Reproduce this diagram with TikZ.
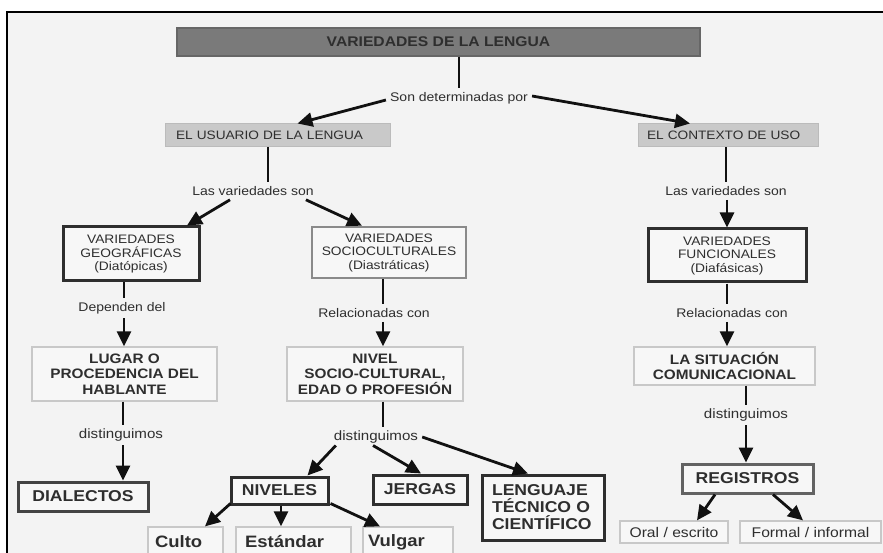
\documentclass[tikz,border=0pt]{standalone}
\usepackage{fontspec}
\setmainfont{Liberation Sans}[FakeStretch=1.12]
\usetikzlibrary{arrows.meta,calc}

\definecolor{paper}{HTML}{F3F3F3}
\definecolor{boxfill}{HTML}{F7F7F7}
\definecolor{ink}{HTML}{2E2E2E}
\definecolor{wire}{HTML}{111111}
\definecolor{titlefill}{HTML}{7A7A7A}
\definecolor{titleedge}{HTML}{666666}
\definecolor{headfill}{HTML}{C9C9C9}
\definecolor{headedge}{HTML}{BBBBBB}
\definecolor{thinline}{HTML}{C8C8C8}
\definecolor{midline}{HTML}{8A8A8A}

\newcommand{\txtsize}[2]{\fontsize{#1}{#2}\selectfont}

\tikzset{
  lbl/.style={inner sep=4pt, text=ink, font=\txtsize{12.5pt}{14pt}},
  lblbig/.style={lbl, font=\txtsize{13.5pt}{15pt}},
  headbox/.style={draw=headedge, line width=1pt, fill=headfill, text=ink,
    inner ysep=0pt, align=left, font=\txtsize{12.2pt}{14pt}},
  titlebox/.style={draw=titleedge, line width=1.2pt, fill=titlefill, text=ink,
    inner sep=0pt, font=\bfseries\txtsize{14pt}{16pt}},
  plainbox/.style={draw=thinline, line width=1.2pt, fill=boxfill, text=ink,
    inner sep=0pt, align=center},
  strongbox/.style={draw=ink, line width=3pt, fill=boxfill, text=ink,
    inner sep=0pt, align=center},
  greybox/.style={strongbox, draw=midline, line width=2.6pt},
  varfont/.style={font=\txtsize{12.3pt}{13.5pt}},
  midfont/.style={font=\bfseries\txtsize{13.7pt}{15.5pt}},
  bigfont/.style={font=\bfseries\txtsize{15.7pt}{17pt}},
  leaffont/.style={font=\bfseries\txtsize{16.5pt}{18pt}},
  link/.style={draw=wire, line width=2.8pt},
  arrow/.style={link, -{Triangle[length=15pt,width=14pt]}},
}

\begin{document}
\begin{tikzpicture}[x=1pt,y=-1pt]
\useasboundingbox (0,0) rectangle (883,553);
\fill[white] (0,0) rectangle (883,553);
\fill[paper] (7,12) rectangle (883,553);
\draw[black, line width=2.5pt] (7,553) -- (7,12) -- (883,12);

% --- top level
\node[titlebox, minimum width=523pt, minimum height=28pt] (title) at (438.5,42) {VARIEDADES DE LA LENGUA};
\node[lbl] (son) at (459,98) {Son determinadas por};
\node[headbox, minimum height=23pt, text width=203pt, inner xsep=11pt] (usr) at (277.5,135.5) {EL USUARIO DE LA LENGUA};
\node[headbox, minimum height=23pt, text width=162pt, inner xsep=9pt] (ctx) at (728,135.5) {EL CONTEXTO DE USO};

% --- second level
\node[lbl] (lab1) at (253,191) {Las variedades son};
\node[lbl] (lab2) at (726,191) {Las variedades son};
\node[strongbox, varfont, minimum width=136pt, minimum height=54pt] (geo) at (131,254) {VARIEDADES\\GEOGRÁFICAS\\(Diatópicas)};
\node[greybox, varfont, minimum width=154pt, minimum height=51pt] (soc) at (389,252.5) {VARIEDADES\\SOCIOCULTURALES\\(Diastráticas)};
\node[strongbox, varfont, minimum width=158pt, minimum height=53pt] (fun) at (727,255.5) {VARIEDADES\\FUNCIONALES\\(Diafásicas)};

% --- third level
\node[lbl] (dep) at (122,308) {Dependen del};
\node[lbl] (rel1) at (374,313) {Relacionadas con};
\node[lbl] (rel2) at (732,313) {Relacionadas con};
\node[plainbox, midfont, minimum width=185pt, minimum height=54pt] (lug) at (124.5,374) {LUGAR O\\PROCEDENCIA DEL\\HABLANTE};
\node[plainbox, midfont, minimum width=176pt, minimum height=54pt] (niv) at (375,374) {NIVEL\\SOCIO-CULTURAL,\\EDAD O PROFESIÓN};
\node[plainbox, midfont, minimum width=181pt, minimum height=38pt] (sit) at (724.5,366) {LA SITUACIÓN\\COMUNICACIONAL};

% --- fourth level
\node[lblbig] (dis1) at (121,435) {distinguimos};
\node[lblbig] (dis2) at (376,437) {distinguimos};
\node[lblbig] (dis3) at (746,415) {distinguimos};
\node[strongbox, bigfont, draw=ink!90, minimum width=130pt, minimum height=29pt] (dia) at (83,496.5) {DIALECTOS};
\node[strongbox, bigfont, minimum width=97pt, minimum height=27pt] (nvs) at (279.5,490.5) {NIVELES};
\node[strongbox, bigfont, minimum width=94pt, minimum height=29pt] (jer) at (420,489.5) {JERGAS};
\node[strongbox, bigfont, align=left, text width=102pt, inner xsep=10pt, minimum height=65pt] (len) at (543,507.5) {LENGUAJE\\TÉCNICO O\\CIENTÍFICO};
\node[strongbox, bigfont, draw=ink!75, minimum width=131pt, minimum height=29pt] (reg) at (747.5,478.5) {REGISTROS};

% --- leaves
\node[plainbox, leaffont, align=left, text width=61pt, inner xsep=7pt, minimum height=30pt] (cul) at (185.5,542) {Culto};
\node[plainbox, leaffont, align=left, text width=97pt, inner xsep=9pt, minimum height=30pt] (est) at (293.5,542) {Estándar};
\node[plainbox, leaffont, align=left, text width=80pt, inner xsep=5pt, minimum height=30pt] (vul) at (408,542) {Vulgar};
\node[plainbox, font=\txtsize{14pt}{16pt}, minimum width=108pt, minimum height=22pt] (ora) at (674,532) {Oral / escrito};
\node[plainbox, font=\txtsize{14pt}{16pt}, minimum width=141pt, minimum height=22pt] (for) at (810.5,532) {Formal / informal};

% --- connectors
\draw[link] (title.south -| son.north) -- (son.north);
\draw[arrow] ($(son.west)+(0,2)$) -- ($(usr.north)+(20,0)$);
\draw[arrow] ($(son.east)+(0,-2)$) -- ($(ctx.north)+(-38,0)$);

\draw[link] ($(usr.south)+(-9.5,0)$) -- ($(lab1.north)+(15,0)$);
\draw[arrow] ($(lab1.south)+(-23,0)$) -- ($(geo.north)+(56,0)$);
\draw[arrow] ($(lab1.south east)+(-12,0)$) -- ($(soc.north)+(-27,0)$);

\draw[link] (ctx.south -| lab2.north) -- (lab2.north);
\draw[arrow] (lab2.south -| fun.north) -- (fun.north);

\draw[link] ($(geo.south)+(-7,0)$) -- ($(dep.north)+(2,0)$);
\draw[arrow] ($(dep.south)+(2,0)$) -- ($(lug.north)+(-0.5,0)$);
\draw[link] ($(soc.south)+(-6,0)$) -- ($(rel1.north)+(9,0)$);
\draw[arrow] ($(rel1.south)+(9,0)$) -- ($(niv.north)+(8,0)$);
\draw[link] (fun.south) -- (fun.south |- rel2.north);
\draw[arrow] (fun.south |- rel2.south) -- (fun.south |- sit.north);

\draw[link] ($(lug.south)+(-1.5,0)$) -- ($(dis1.north)+(2,0)$);
\draw[arrow] ($(dis1.south)+(2,0)$) -- ($(dia.north)+(40,0)$);
\draw[link] ($(niv.south)+(8,0)$) -- ($(dis2.north)+(7,0)$);
\draw[arrow] ($(dis2.south west)+(6,-2)$) -- ($(nvs.north)+(28,0)$);
\draw[arrow] ($(dis2.south)+(-3,-2)$) -- ($(jer.north)+(1,0)$);
\draw[arrow] (dis2.east) -- ($(len.north)+(-15,0)$);
\draw[link] ($(sit.south)+(21.5,0)$) -- (dis3.north);
\draw[arrow] (dis3.south) -- ($(reg.north)+(-1.5,0)$);

\draw[arrow] ($(nvs.south west)+(1,-2)$) -- ($(cul.north)+(19.5,0)$);
\draw[arrow] ($(nvs.south)+(1.5,0)$) -- ($(est.north)+(-12.5,0)$);
\draw[arrow] ($(nvs.south east)+(1,-2)$) -- ($(vul.north)+(-28,0)$);
\draw[arrow] ($(reg.south)+(-32.5,0)$) -- ($(ora.north)+(23,0)$);
\draw[arrow] ($(reg.south)+(25.5,0)$) -- ($(for.north)+(-7.5,0)$);
\end{tikzpicture}
\end{document}
